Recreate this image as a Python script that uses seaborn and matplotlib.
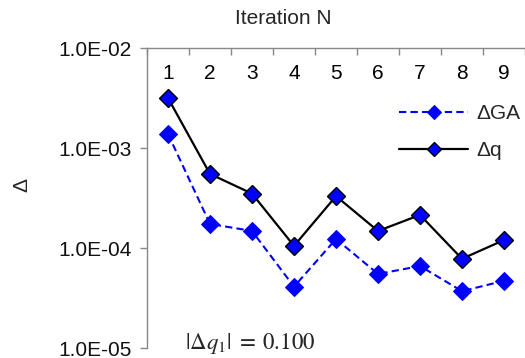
import matplotlib
matplotlib.use("Agg")
import matplotlib.pyplot as plt
import seaborn as sns
import numpy as np
import pandas as pd
from matplotlib.ticker import FixedLocator, FuncFormatter, NullLocator

iterations = [1, 2, 3, 4, 5, 6, 7, 8, 9]
delta_ga = [1.38e-3, 1.74e-4, 1.48e-4, 4.1e-5, 1.23e-4, 5.5e-5, 6.6e-5, 3.7e-5, 4.7e-5]
delta_q = [3.16e-3, 5.5e-4, 3.5e-4, 1.05e-4, 3.3e-4, 1.48e-4, 2.14e-4, 7.8e-5, 1.2e-4]
y_ticks = [1e-5, 1e-4, 1e-3, 1e-2]

sns.set_theme(style="white")
plt.rcParams['font.family'] = ['Liberation Sans', 'DejaVu Sans']
plt.rcParams['mathtext.fontset'] = 'stix'

fig = plt.figure(figsize=(5.25, 3.58), dpi=100)
ax = fig.add_axes([147/525, 1-348/358, 1-147/525, 300/358])

df_ga = pd.DataFrame({"N": iterations, "v": delta_ga})
df_q = pd.DataFrame({"N": iterations, "v": delta_q})

sns.lineplot(data=df_ga, x="N", y="v", ax=ax, color="#0000FF", linestyle=(0, (3.5, 2)),
             lw=1.5, marker="D", markersize=9, markerfacecolor="#0000FF",
             markeredgecolor="#0000FF", label="ΔGA")
sns.lineplot(data=df_q, x="N", y="v", ax=ax, color="black", lw=1.6,
             marker="D", markersize=9, markerfacecolor="#0000FF",
             markeredgecolor="black", markeredgewidth=1.0, label="Δq")

ax.set_yscale("log")
ax.set_ylim(1e-5, 1e-2)
ax.set_xlim(0.5, 9.5)
ax.yaxis.set_major_locator(FixedLocator(y_ticks))
ax.yaxis.set_minor_locator(NullLocator())
ax.yaxis.set_major_formatter(FuncFormatter(lambda v, p: f"{v:.1E}"))

ax.xaxis.tick_top()
ax.xaxis.set_major_locator(FixedLocator(np.arange(0.5, 10, 1)))
ax.xaxis.set_major_formatter(FuncFormatter(lambda v, p: ""))
ax.xaxis.set_minor_locator(FixedLocator(iterations))
ax.xaxis.set_minor_formatter(FuncFormatter(lambda v, p: f"{int(round(v))}"))
ax.tick_params(axis="x", which="major", direction="in", length=5, width=1,
               color="#888888", top=True, bottom=False)
ax.tick_params(axis="x", which="minor", length=0, top=True, bottom=False,
               labeltop=True, labelbottom=False, pad=-25, labelsize=15, labelcolor="black")
ax.tick_params(axis="y", which="major", direction="out", length=5, width=1,
               color="#888888", left=True, labelsize=15, labelcolor="#111111", pad=6)

for s in ["right", "bottom"]:
    ax.spines[s].set_visible(False)
for s in ["left", "top"]:
    ax.spines[s].set_color("#888888")
    ax.spines[s].set_linewidth(1)

ax.set_xlabel("")
ax.set_ylabel("")
fig.text(22/525, 1-185/358, "Δ", rotation=90, ha="center", va="center", fontsize=15)

fig.text(283/525, 1-18/358, "Iteration N", ha="center", va="center", fontsize=15)
fig.text(250/525, 1-343/358, r"$|\Delta q_1|\;=\;0.100$",
         ha="center", va="center", fontsize=16.5)

leg = ax.legend(loc="upper right", bbox_to_anchor=(1.01, 0.84), frameon=False,
                fontsize=15, handlelength=3.3, handletextpad=0.4, labelspacing=0.85,
                borderaxespad=0.0, markerscale=0.8)

fig.savefig("out.png", dpi=100)
